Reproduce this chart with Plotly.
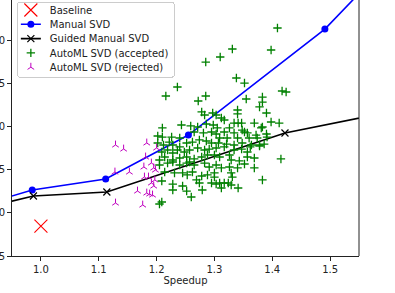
import plotly.graph_objects as go

# ---- data ----
baseline_x = [1.0]
baseline_y = [0.847]

manual_x = [0.90, 0.985, 1.112, 1.255, 1.491, 1.60]
manual_y = [1.094, 1.264, 1.391, 1.900, 3.127, 3.885]

guided_x = [0.90, 0.987, 1.114, 1.422, 1.60]
guided_y = [1.056, 1.194, 1.241, 1.924, 2.162]

accepted_x = [
    1.409, 1.331, 1.398, 1.310, 1.285, 1.338, 1.352, 1.236, 1.216, 1.285,
    1.355, 1.383, 1.417, 1.424, 1.383, 1.272, 1.378, 1.340, 1.390, 1.340,
    1.278, 1.283, 1.297, 1.303, 1.312, 1.317,
    1.210, 1.243, 1.259, 1.271, 1.286, 1.298, 1.305, 1.326, 1.334, 1.341,
    1.347, 1.369, 1.383, 1.398, 1.412, 1.348, 1.352, 1.381, 1.390,
    1.202, 1.210, 1.226, 1.240, 1.265, 1.281, 1.295, 1.303, 1.202, 1.212,
    1.222, 1.228, 1.240, 1.252, 1.262, 1.274, 1.286, 1.295, 1.307, 1.317,
    1.334, 1.357, 1.372, 1.309, 1.322, 1.340, 1.360, 1.374, 1.391, 1.321,
    1.334, 1.348, 1.364, 1.378, 1.386,
    1.209, 1.219, 1.228, 1.236, 1.248, 1.257, 1.271, 1.283, 1.291, 1.303,
    1.205, 1.214, 1.228, 1.240, 1.252, 1.257, 1.265, 1.278, 1.288, 1.300,
    1.309, 1.317, 1.334, 1.347, 1.357, 1.362, 1.378, 1.326, 1.329, 1.343,
    1.352, 1.357, 1.369, 1.415,
    1.205, 1.219, 1.228, 1.240, 1.252, 1.265, 1.283, 1.291, 1.303, 1.214,
    1.231, 1.245, 1.253, 1.262, 1.278, 1.288, 1.300, 1.209, 1.228, 1.245,
    1.269, 1.274, 1.295, 1.303, 1.228, 1.252, 1.279, 1.260, 1.209, 1.205,
    1.312, 1.326, 1.340, 1.369, 1.300, 1.329, 1.331, 1.383, 1.309, 1.317,
    1.324, 1.329, 1.312, 1.341,
]
accepted_y = [
    3.139, 2.896, 2.884, 2.803, 2.745, 2.560, 2.502, 2.456, 2.352, 2.352,
    2.317, 2.340, 2.410, 2.398, 2.282, 2.294, 2.225, 2.190, 2.155, 2.144,
    2.167, 2.132, 2.155, 2.132, 2.097, 2.074,
    1.982, 2.016, 2.005, 1.993, 2.028, 2.016, 1.982, 1.982, 2.039, 2.039,
    2.039, 2.039, 1.993, 2.051, 2.039, 1.958, 1.935, 1.982, 1.912,
    1.889, 1.877, 1.877, 1.866, 1.935, 1.924, 1.935, 1.912, 1.808, 1.785,
    1.819, 1.785, 1.762, 1.808, 1.819, 1.843, 1.831, 1.808, 1.808, 1.935,
    1.924, 1.924, 1.900, 1.866, 1.866, 1.866, 1.866, 1.866, 1.877, 1.796,
    1.785, 1.808, 1.785, 1.785, 1.796,
    1.704, 1.727, 1.692, 1.727, 1.704, 1.727, 1.750, 1.727, 1.738, 1.750,
    1.611, 1.646, 1.611, 1.634, 1.646, 1.588, 1.623, 1.646, 1.669, 1.669,
    1.646, 1.762, 1.727, 1.738, 1.704, 1.762, 1.773, 1.669, 1.611, 1.600,
    1.565, 1.646, 1.634, 1.623,
    1.553, 1.576, 1.588, 1.553, 1.576, 1.553, 1.576, 1.530, 1.553, 1.472,
    1.461, 1.461, 1.438, 1.472, 1.426, 1.438, 1.414, 1.368, 1.333, 1.310,
    1.380, 1.345, 1.345, 1.333, 1.264, 1.252, 1.264, 1.183, 1.125, 1.102,
    1.519, 1.530, 1.519, 1.519, 1.461, 1.461, 1.414, 1.380, 1.345, 1.345,
    1.345, 1.322, 1.287, 1.287,
]

rejected_x = [1.129, 1.143, 1.183, 1.200, 1.128, 1.153, 1.181, 1.178, 1.191, 1.195,
              1.198, 1.179, 1.186, 1.197, 1.195, 1.191, 1.167, 1.183, 1.188, 1.193,
              1.129, 1.176]
rejected_y = [1.785, 1.738, 1.808, 1.750, 1.472, 1.472, 1.646, 1.530, 1.576, 1.519,
              1.495, 1.414, 1.414, 1.380, 1.310, 1.345, 1.252, 1.229, 1.218, 1.206,
              1.113, 1.090]

x_ticks = [1.0, 1.1, 1.2, 1.3, 1.4, 1.5]
y_ticks = [0.5, 1.0, 1.5, 2.0, 2.5, 3.0]

FONT = "DejaVu Sans"
INK = "#222222"

fig = go.Figure()

fig.add_trace(go.Scatter(
    x=baseline_x, y=baseline_y, mode="markers", name="Baseline",
    marker=dict(symbol="x-thin", size=13, color="#ff0000",
                line=dict(color="#ff0000", width=1.1)),
))
fig.add_trace(go.Scatter(
    x=manual_x, y=manual_y, mode="lines+markers", name="Manual SVD",
    line=dict(color="#0000ff", width=1.6),
    marker=dict(symbol="circle", size=7, color="#0000ff"),
))
fig.add_trace(go.Scatter(
    x=guided_x, y=guided_y, mode="lines+markers", name="Guided Manual SVD",
    line=dict(color="#000000", width=1.6),
    marker=dict(symbol="x-thin", size=7, color="#000000",
                line=dict(color="#000000", width=1.2)),
))
fig.add_trace(go.Scatter(
    x=accepted_x, y=accepted_y, mode="markers", name="AutoML SVD (accepted)",
    marker=dict(symbol="cross-thin", size=6, color="#008000",
                line=dict(color="#008000", width=1.3)),
))
fig.add_trace(go.Scatter(
    x=rejected_x, y=rejected_y, mode="markers", name="AutoML SVD (rejected)",
    marker=dict(symbol="y-up", size=5.5, color="#bf00bf",
                line=dict(color="#bf00bf", width=1)),
))

axis_common = dict(
    showgrid=False, zeroline=False, showline=True, linecolor=INK, linewidth=1,
    ticks="outside", ticklen=4, tickwidth=1, tickcolor=INK,
    tickfont=dict(family=FONT, size=10, color=INK),
)

fig.update_layout(
    width=395, height=293,
    margin=dict(l=12, r=36, t=0, b=37, autoexpand=False),
    paper_bgcolor="white", plot_bgcolor="white",
    font=dict(family=FONT, size=10, color=INK),
    hovermode=False,
    showlegend=True,
    legend=dict(x=0.014, y=0.993, xanchor="left", yanchor="top",
                bgcolor="rgba(255,255,255,0.85)", bordercolor="#cccccc", borderwidth=1,
                font=dict(family=FONT, size=10, color=INK),
                tracegroupgap=0, itemwidth=30),
    xaxis=dict(range=[0.95, 1.55], tickvals=x_ticks, tickformat=".1f",
               title=dict(text="Speedup", standoff=2,
                          font=dict(family=FONT, size=10, color=INK)),
               automargin=False, **axis_common),
    yaxis=dict(range=[0.5, 3.463], tickvals=y_ticks, tickformat=".1f",
               automargin=False, **axis_common),
    shapes=[dict(type="line", xref="paper", yref="paper", x0=1, x1=1, y0=0, y1=1,
                 line=dict(color=INK, width=1))],
)

post_js = """
document.body.style.margin = '0';
try {
  var gd = document.getElementById('{plot_id}');
  var leg = gd.querySelector('g.legend');
  var items = leg.querySelectorAll('g.traces');
  var step = 14.3, top0 = 8.2;
  items.forEach(function(el, i) {
    var m = /translate\\(([-\\d.]+)/.exec(el.getAttribute('transform') || '');
    var x0 = m ? m[1] : 0;
    el.setAttribute('transform', 'translate(' + x0 + ',' + (top0 + i * step) + ')');
    el.querySelectorAll('.legendlines path').forEach(function(p) { p.setAttribute('d', 'M3,0h20'); });
    el.querySelectorAll('.legendpoints path').forEach(function(p) { p.setAttribute('transform', 'translate(13,0)'); });
    var t = el.querySelector('text.legendtext');
    if (t) { t.setAttribute('x', 32); }
  });
  var bg = leg.querySelector('rect.bg');
  bg.setAttribute('height', top0 + (items.length - 1) * step + 9.5);
  bg.setAttribute('width', parseFloat(bg.getAttribute('width')) - 8);
  bg.setAttribute('rx', 3); bg.setAttribute('ry', 3);
} catch (e) {}
"""

fig.write_html("out.html", post_script=post_js,
               config={"displayModeBar": False, "staticPlot": False})
